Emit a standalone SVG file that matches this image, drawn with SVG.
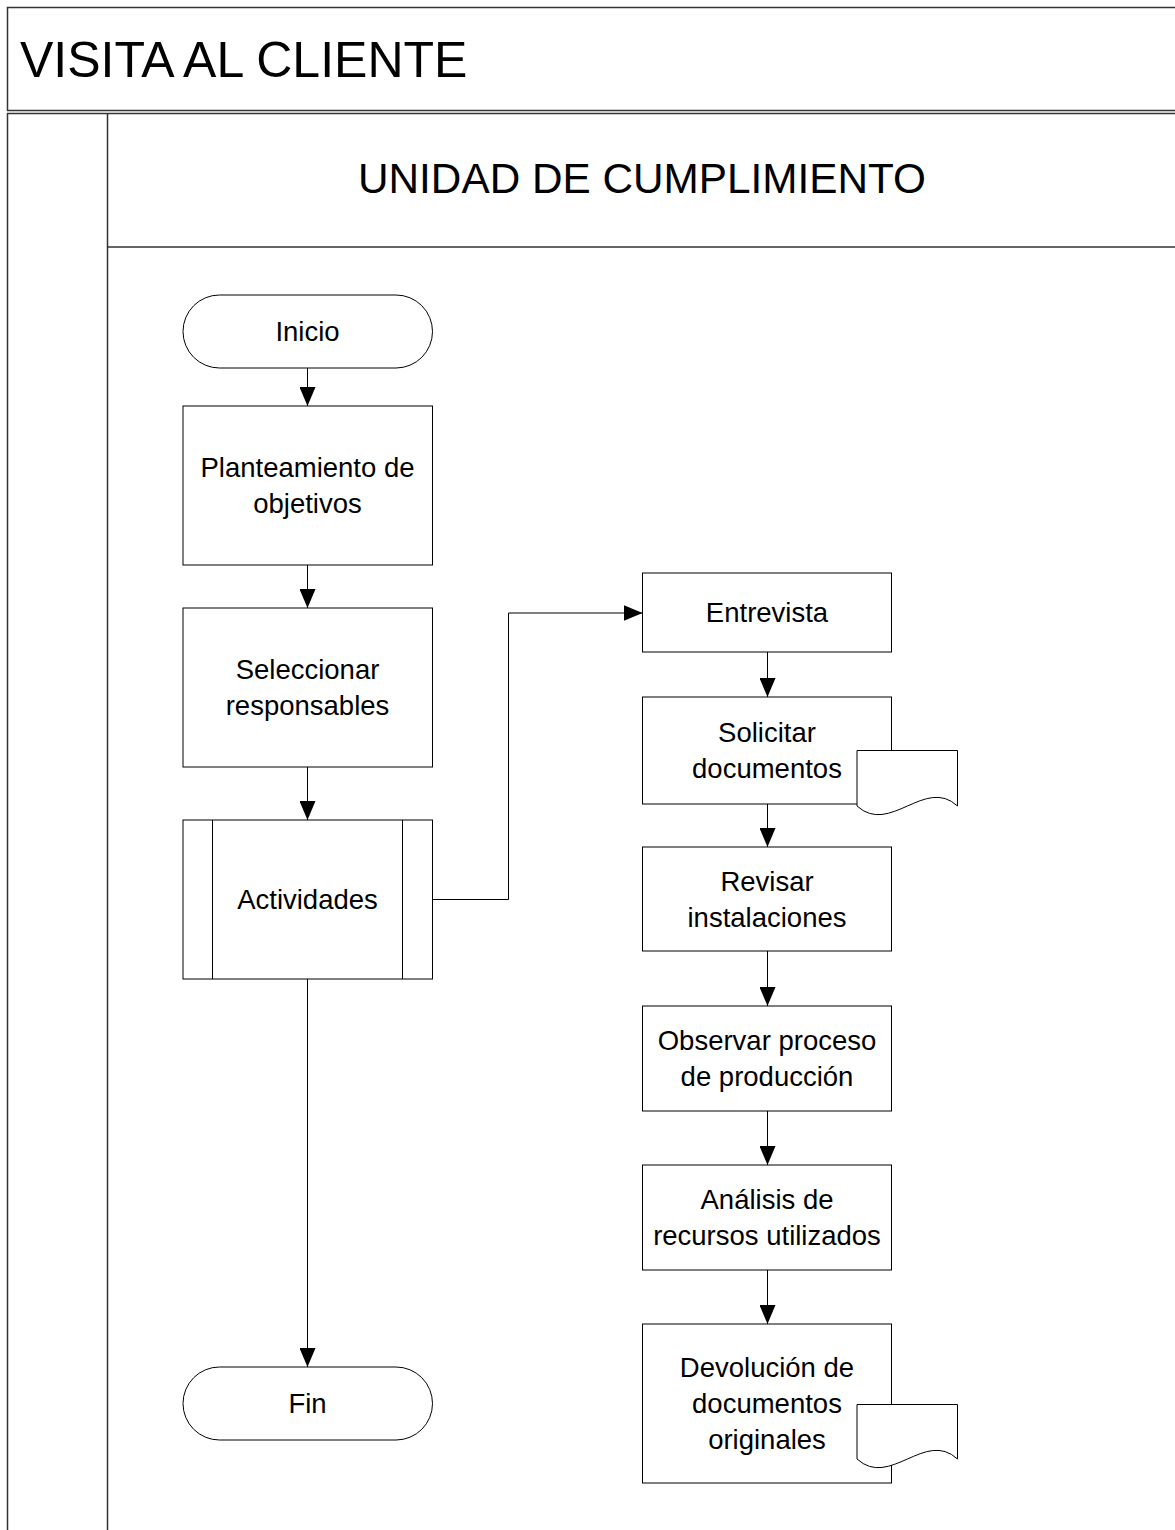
<svg xmlns="http://www.w3.org/2000/svg" width="1175" height="1530" viewBox="0 0 1175 1530">
  <style>
    .frame { fill: none; stroke: #333333; stroke-width: 1.5; }
    .shape { fill: #ffffff; stroke: #000000; stroke-width: 1; }
    .conn { fill: none; stroke: #000000; stroke-width: 1; }
    .lbl { font-family: "Liberation Sans", Arial, sans-serif; font-size: 27.5px; fill: #000000; text-anchor: middle; dominant-baseline: central; }
    .title { font-family: "Liberation Sans", Arial, sans-serif; fill: #000000; }
  </style>
  <defs>
    <marker id="arrow" markerUnits="userSpaceOnUse" viewBox="0 0 19 16" markerWidth="19" markerHeight="16" refX="19" refY="8" orient="auto">
      <path d="M0,0 L19,8 L0,16 z" fill="#000000"/>
    </marker>
  </defs>

  <rect width="1175" height="1530" fill="#ffffff"/>

  <!-- pool and lane frame -->
  <g id="pool">
    <path class="frame" d="M1180,7.5 H7.5 V110.5 H1180"/>
    <path class="frame" d="M1180,113.5 H7.5 V1535"/>
    <path class="frame" d="M107.5,113.5 V1535"/>
    <path class="frame" d="M107.5,247 H1180"/>
    <text class="title" x="20" y="77" font-size="50">VISITA AL CLIENTE</text>
    <text class="title" x="642" y="193" font-size="42.3" text-anchor="middle">UNIDAD DE CUMPLIMIENTO</text>
  </g>

  <!-- connectors -->
  <g id="connectors">
    <path class="conn" d="M307.5,368 V406" marker-end="url(#arrow)"/>
    <path class="conn" d="M307.5,565 V608" marker-end="url(#arrow)"/>
    <path class="conn" d="M307.5,767 V820" marker-end="url(#arrow)"/>
    <path class="conn" d="M307.5,979 V1367" marker-end="url(#arrow)"/>
    <path class="conn" d="M432.5,899.5 H508.5 V613 H642.5" marker-end="url(#arrow)"/>
    <path class="conn" d="M767.5,652 V697" marker-end="url(#arrow)"/>
    <path class="conn" d="M767.5,804 V847" marker-end="url(#arrow)"/>
    <path class="conn" d="M767.5,951 V1006" marker-end="url(#arrow)"/>
    <path class="conn" d="M767.5,1111 V1165" marker-end="url(#arrow)"/>
    <path class="conn" d="M767.5,1270 V1324" marker-end="url(#arrow)"/>
  </g>

  <g id="inicio">
    <rect class="shape" x="183" y="295" width="249.5" height="73" rx="36.5" ry="36.5"/>
    <text class="lbl" x="307.5" y="331.5">Inicio</text>
  </g>

  <g id="planteamiento">
    <rect class="shape" x="183" y="406" width="249.5" height="159"/>
    <text class="lbl" x="307.5" y="467.5">Planteamiento de</text>
    <text class="lbl" x="307.5" y="503.5">objetivos</text>
  </g>

  <g id="seleccionar">
    <rect class="shape" x="183" y="608" width="249.5" height="159"/>
    <text class="lbl" x="307.5" y="669.5">Seleccionar</text>
    <text class="lbl" x="307.5" y="705.5">responsables</text>
  </g>

  <g id="actividades">
    <rect class="shape" x="183" y="820" width="249.5" height="159"/>
    <path class="conn" d="M212.5,820 V979 M402.5,820 V979"/>
    <text class="lbl" x="307.5" y="899.5">Actividades</text>
  </g>

  <g id="fin">
    <rect class="shape" x="183" y="1367" width="249.5" height="73" rx="36.5" ry="36.5"/>
    <text class="lbl" x="307.5" y="1403.5">Fin</text>
  </g>

  <g id="entrevista">
    <rect class="shape" x="642.5" y="573" width="249" height="79"/>
    <text class="lbl" x="767" y="612.5">Entrevista</text>
  </g>

  <g id="solicitar">
    <rect class="shape" x="642.5" y="697" width="249" height="107"/>
    <text class="lbl" x="767" y="732.5">Solicitar</text>
    <text class="lbl" x="767" y="768.5">documentos</text>
    <path class="shape" d="M857,750.5 H957.5 V806 C925,776 890,836 857,806 Z"/>
  </g>

  <g id="revisar">
    <rect class="shape" x="642.5" y="847" width="249" height="104"/>
    <text class="lbl" x="767" y="881">Revisar</text>
    <text class="lbl" x="767" y="917">instalaciones</text>
  </g>

  <g id="observar">
    <rect class="shape" x="642.5" y="1006" width="249" height="105"/>
    <text class="lbl" x="767" y="1040.5">Observar proceso</text>
    <text class="lbl" x="767" y="1076.5">de producción</text>
  </g>

  <g id="analisis">
    <rect class="shape" x="642.5" y="1165" width="249" height="105"/>
    <text class="lbl" x="767" y="1199.5">Análisis de</text>
    <text class="lbl" x="767" y="1235.5">recursos utilizados</text>
  </g>

  <g id="devolucion">
    <rect class="shape" x="642.5" y="1324" width="249" height="159"/>
    <text class="lbl" x="767" y="1367.5">Devolución de</text>
    <text class="lbl" x="767" y="1403.5">documentos</text>
    <text class="lbl" x="767" y="1439.5">originales</text>
    <path class="shape" d="M857,1404.5 H957.5 V1459 C925,1429 890,1489 857,1459 Z"/>
  </g>
</svg>
